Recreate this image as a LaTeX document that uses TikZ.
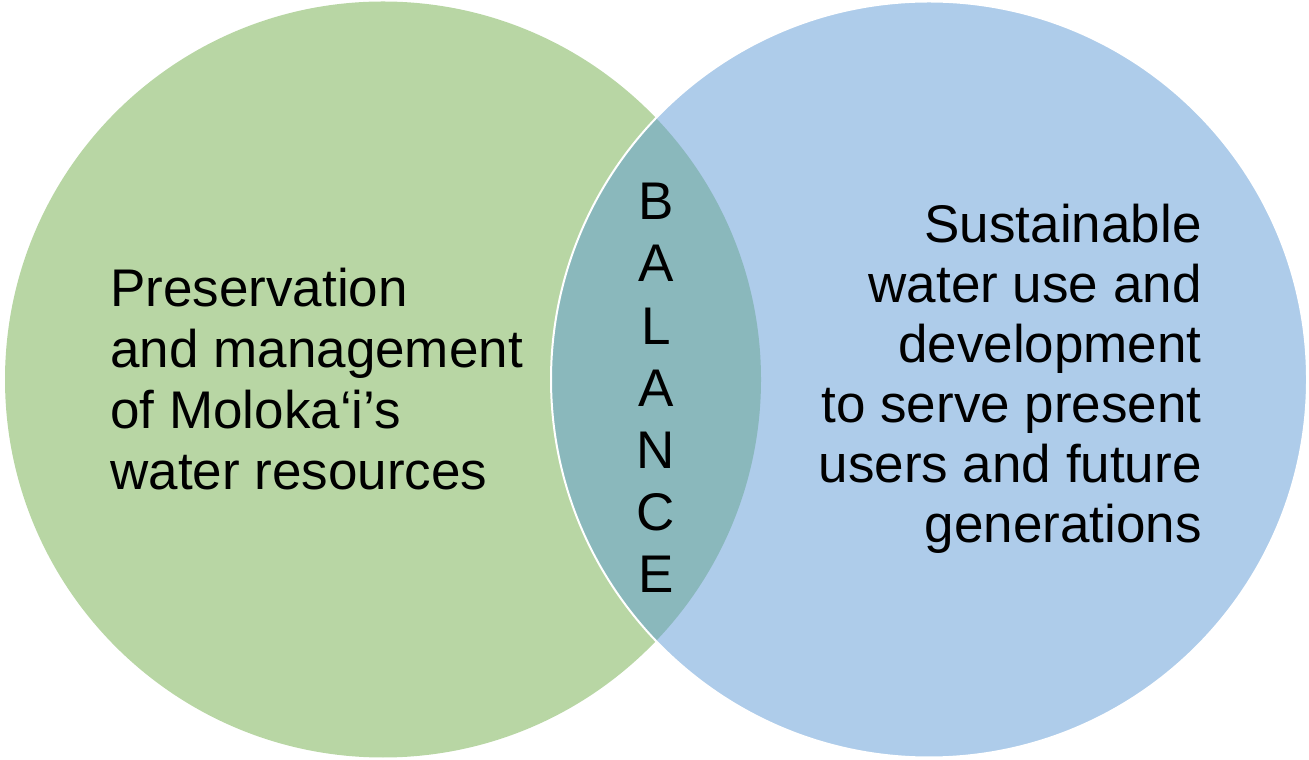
\documentclass[tikz,border=0pt]{standalone}
\usepackage{fontspec}
\setmainfont{Liberation Sans}
\usetikzlibrary{positioning}
\definecolor{leftgreen}{RGB}{184,214,164}
\definecolor{rightblue}{RGB}{174,204,234}
\definecolor{overlapteal}{RGB}{138,184,188}
\tikzset{
      lefttext/.style = {font=\fontsize{26.5}{30.5}\selectfont, inner sep=0pt, align=left},
      righttext/.style = {font=\fontsize{26.5}{30}\selectfont, inner sep=0pt, align=right},
      lettercol/.style = {font=\fontsize{26.5}{31.1}\selectfont, inner sep=0pt, align=center},
    }

\begin{document}
\begin{tikzpicture}[x=0.5pt,y=0.5pt]
          \useasboundingbox (0,0) rectangle (1309,759);
          \coordinate (pres) at (383,379.5);
          \coordinate (sust) at (929,379.5);

          % the two sets
          \fill[leftgreen] (pres) circle (378);
          \fill[rightblue] (sust) circle (378);
          \begin{scope}
            \clip (pres) circle (378);
            \fill[overlapteal] (sust) circle (378);
          \end{scope}
          \draw[white, line width=1pt] (sust) circle (378);

          % base anchor sits on the last line
          \node[lefttext, anchor=base west] (prestext) at (110,269)
            {Preservation\\and management\\of Moloka‘i’s\\water resources};
          \node[righttext, anchor=base east] (susttext) at (1202,216)
            {Sustainable\\water use and\\development\\to serve present\\users and future\\generations};
          \node[lettercol, anchor=base] (balance) at (656,166)
            {B\\A\\L\\A\\N\\C\\E};
\end{tikzpicture}
\end{document}
